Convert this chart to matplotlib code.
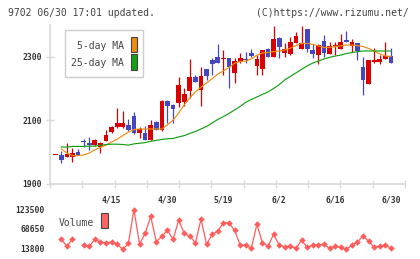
import matplotlib
matplotlib.use("Agg")
import matplotlib.pyplot as plt
import numpy as np
from matplotlib.patches import Rectangle

# ---------------- data ----------------
opens = [1989, 1990, 1983, 1983, 1999, 2033, 2029, 2020, 2016, 2035,
         2063, 2077, 2077, 2085, 2113, 2058, 2060, 2037, 2094, 2069,
         2160, 2148, 2155, 2158, 2192, 2235, 2195, 2260, 2290, 2300,
         2294, 2297, 2250, 2284, 2293, 2311, 2272, 2261, 2324, 2299,
         2360, 2313, 2307, 2344, 2323, 2387, 2320, 2305, 2350, 2307,
         2333, 2324, 2352, 2333, 2342, 2268, 2213, 2284, 2283, 2293,
         2302]
highs = [1989, 2003, 2027, 2012, 2010, 2040, 2047, 2040, 2030, 2069,
         2082, 2139, 2128, 2102, 2126, 2079, 2081, 2100, 2097, 2162,
         2162, 2150, 2235, 2200, 2294, 2242, 2268, 2262, 2295, 2340,
         2321, 2297, 2295, 2311, 2314, 2325, 2305, 2321, 2327, 2398,
         2362, 2342, 2361, 2379, 2398, 2388, 2340, 2340, 2368, 2345,
         2347, 2372, 2381, 2355, 2342, 2300, 2290, 2327, 2305, 2347,
         2327]
lows = [1989, 1964, 1983, 1969, 1990, 2016, 2006, 2018, 1995, 2035,
        2060, 2075, 2075, 2065, 2055, 2043, 2037, 2037, 2069, 2065,
        2090, 2090, 2140, 2143, 2169, 2221, 2144, 2227, 2242, 2279,
        2242, 2200, 2218, 2280, 2279, 2299, 2242, 2242, 2299, 2299,
        2295, 2300, 2305, 2344, 2323, 2316, 2297, 2276, 2300, 2307,
        2305, 2324, 2345, 2316, 2291, 2179, 2213, 2280, 2278, 2293,
        2281]
closes = [1989, 1974, 1993, 1997, 1991, 2031, 2020, 2037, 2027, 2053,
          2079, 2090, 2090, 2069, 2058, 2071, 2037, 2085, 2069, 2160,
          2144, 2135, 2211, 2182, 2235, 2221, 2239, 2239, 2276, 2279,
          2296, 2268, 2286, 2297, 2291, 2302, 2292, 2321, 2299, 2357,
          2332, 2324, 2345, 2365, 2344, 2324, 2308, 2337, 2313, 2335,
          2335, 2345, 2345, 2345, 2319, 2226, 2290, 2290, 2292, 2302,
          2281]
ma5 = [np.nan, 2009, 1996, 1988, 1988, 1990, 1996, 2006, 2014, 2021,
       2031, 2040, 2051, 2062, 2070, 2072, 2072, 2072, 2072, 2072,
       2085, 2100, 2122, 2148, 2170, 2189, 2204, 2217, 2231, 2245,
       2255, 2266, 2279, 2285, 2286, 2293, 2305, 2312, 2313, 2316,
       2318, 2321, 2327, 2335, 2342, 2342, 2339, 2334, 2329, 2329,
       2332, 2334, 2337, 2337, 2335, 2332, 2326, 2318, 2309, 2302,
       2301]
ma25 = [np.nan, 2015, 2015, 2017, 2017, 2017, 2018, 2018, 2020, 2023,
        2024, 2024, 2023, 2021, 2025, 2027, 2029, 2033, 2036, 2039,
        2041, 2042, 2047, 2051, 2058, 2064, 2072, 2080, 2091, 2102,
        2111, 2121, 2132, 2143, 2156, 2165, 2173, 2181, 2189, 2200,
        2212, 2227, 2238, 2249, 2260, 2271, 2280, 2286, 2293, 2298,
        2302, 2305, 2310, 2313, 2316, 2318, 2318, 2318, 2318, 2318,
        2318]
volume = [np.nan, 38300, 19400, 39100, np.nan, 22200, 19400, 38300, 31500, 28700,
          31500, 25100, 10100, 27000, 122700, 25100, 55200, 103800, 31500, 47600,
          64400, 38300, 92600, 55200, 47600, 28700, 95400, 24200, 53200, 61600,
          85500, 85000, 64400, 22200, 22200, 13000, 81300, 28700, 19400, 53200,
          22200, 17500, 19400, 13000, 36300, 15800, 22200, 22200, 25100, 13000,
          19400, 15800, 10100, 22200, 31500, 47600, 33500, 15800, 19400, 22200,
          13000]
date_labels = ["4/15", "4/30", "5/19", "6/2", "6/16", "6/30"]
date_label_idx = [10, 20, 30, 40, 50, 60]
price_ticks = [1900, 2100, 2300]
vol_ticks = [13800, 68650, 123500]

title_text = "9702 06/30 17:01 updated."
credit_text = "(C)https://www.rizumu.net/"

# ---------------- style ----------------
RED = "#d80000"
BLUE = "#4646c0"
ORANGE = "#f08c10"
GREEN = "#14a014"
VOLC = "#ff5c5c"
AXC = "#d8d8d8"
TXT = "#333333"
MONO = "DejaVu Sans Mono"

W, H = 420, 259
fig = plt.figure(figsize=(W / 100, H / 100), dpi=100)
fig.patch.set_facecolor("white")

def fx(px):
    return px / W

def fy(py):
    return 1 - py / H

ax = fig.add_axes([fx(50), fy(183.5), fx(355), (183.5 - 25) / H])
axv = fig.add_axes([fx(50), fy(253), fx(355), (253 - 203.5) / H])

x = np.arange(len(opens))
o = np.array(opens, float)
c = np.array(closes, float)
hi = np.array(highs, float)
lo = np.array(lows, float)
cols = np.where(c >= o, RED, BLUE)

xmin, xmax = -1.02, 62.5

ax.vlines(x, lo, hi, colors=cols, linewidth=0.9, zorder=2)
bot = np.minimum(o, c)
hgt = np.maximum(np.abs(c - o), 2.6)
ax.bar(x, hgt, bottom=bot, width=0.85, color=cols, linewidth=0, zorder=3)
ax.plot(x, ma5, color=ORANGE, linewidth=0.85, zorder=4)
ax.plot(x, ma25, color=GREEN, linewidth=0.85, zorder=4)

ax.set_xlim(xmin, xmax)
ax.set_ylim(1900, 2400)
for s in ["top", "right"]:
    ax.spines[s].set_visible(False)
for s in ["left", "bottom"]:
    ax.spines[s].set_color(AXC)
    ax.spines[s].set_linewidth(1.2)

ax.set_yticks(price_ticks)
ax.set_yticklabels([str(t) for t in price_ticks])
ax.tick_params(axis="y", direction="inout", length=6, width=1.0, color=AXC,
               pad=3, labelsize=5.8, labelcolor=TXT)
ax.set_xticks(date_label_idx)
ax.set_xticklabels(date_labels)
ax.tick_params(axis="x", which="major", length=0, pad=8.5, labelsize=5.8, labelcolor=TXT)
ax.set_xticks(np.linspace(xmin, xmax, 12), minor=True)
ax.tick_params(axis="x", which="minor", direction="inout", length=6, width=1.0, color=AXC)
for lab in ax.get_xticklabels() + ax.get_yticklabels():
    lab.set_fontfamily(MONO)
    lab.set_fontweight("bold")

# volume panel
axv.plot(x, volume, color=VOLC, linewidth=0.9, marker="D", markersize=3.3,
         markeredgewidth=0, zorder=3)
axv.set_xlim(xmin, xmax)
axv.set_ylim(0, 140000)
for s in axv.spines.values():
    s.set_visible(False)
axv.set_xticks([])
axv.set_yticks(vol_ticks)
axv.set_yticklabels([str(t) for t in vol_ticks])
axv.tick_params(axis="y", length=0, pad=4, labelsize=5.8, labelcolor=TXT)
for lab in axv.get_yticklabels():
    lab.set_fontfamily(MONO)
    lab.set_fontweight("bold")

# titles
fig.text(fx(8), fy(12.5), title_text, fontsize=7.0, family=MONO, color="#444444",
         ha="left", va="center")
fig.text(fx(409), fy(12.5), credit_text, fontsize=7.0, family=MONO, color="#444444",
         ha="right", va="center")

# legend box for MAs
fig.add_artist(Rectangle((fx(65), fy(77.3)), fx(78.3), (77.3 - 30) / H,
                         transform=fig.transFigure, facecolor="white",
                         edgecolor="#cccccc", linewidth=1.0, zorder=5))
fig.text(fx(124), fy(46), "5-day MA", fontsize=7.0, family=MONO, color="#444444",
         ha="right", va="center", zorder=6)
fig.text(fx(124), fy(63), "25-day MA", fontsize=7.0, family=MONO, color="#444444",
         ha="right", va="center", zorder=6)
fig.add_artist(Rectangle((fx(131), fy(52.3)), fx(6.3), 15.6 / H,
                         transform=fig.transFigure, facecolor=ORANGE,
                         edgecolor="#444444", linewidth=0.8, zorder=6))
fig.add_artist(Rectangle((fx(131), fy(70)), fx(6.3), 16 / H,
                         transform=fig.transFigure, facecolor=GREEN,
                         edgecolor="#444444", linewidth=0.8, zorder=6))

# volume legend
fig.text(fx(59), fy(222.5), "Volume", fontsize=7.0, family=MONO, color="#444444",
         ha="left", va="center", zorder=6)
fig.add_artist(Rectangle((fx(101), fy(228.3)), fx(6.7), 15.6 / H,
                         transform=fig.transFigure, facecolor="#ff6464",
                         edgecolor="#444444", linewidth=0.8, zorder=6))

fig.savefig("out.png", dpi=100, facecolor="white")
